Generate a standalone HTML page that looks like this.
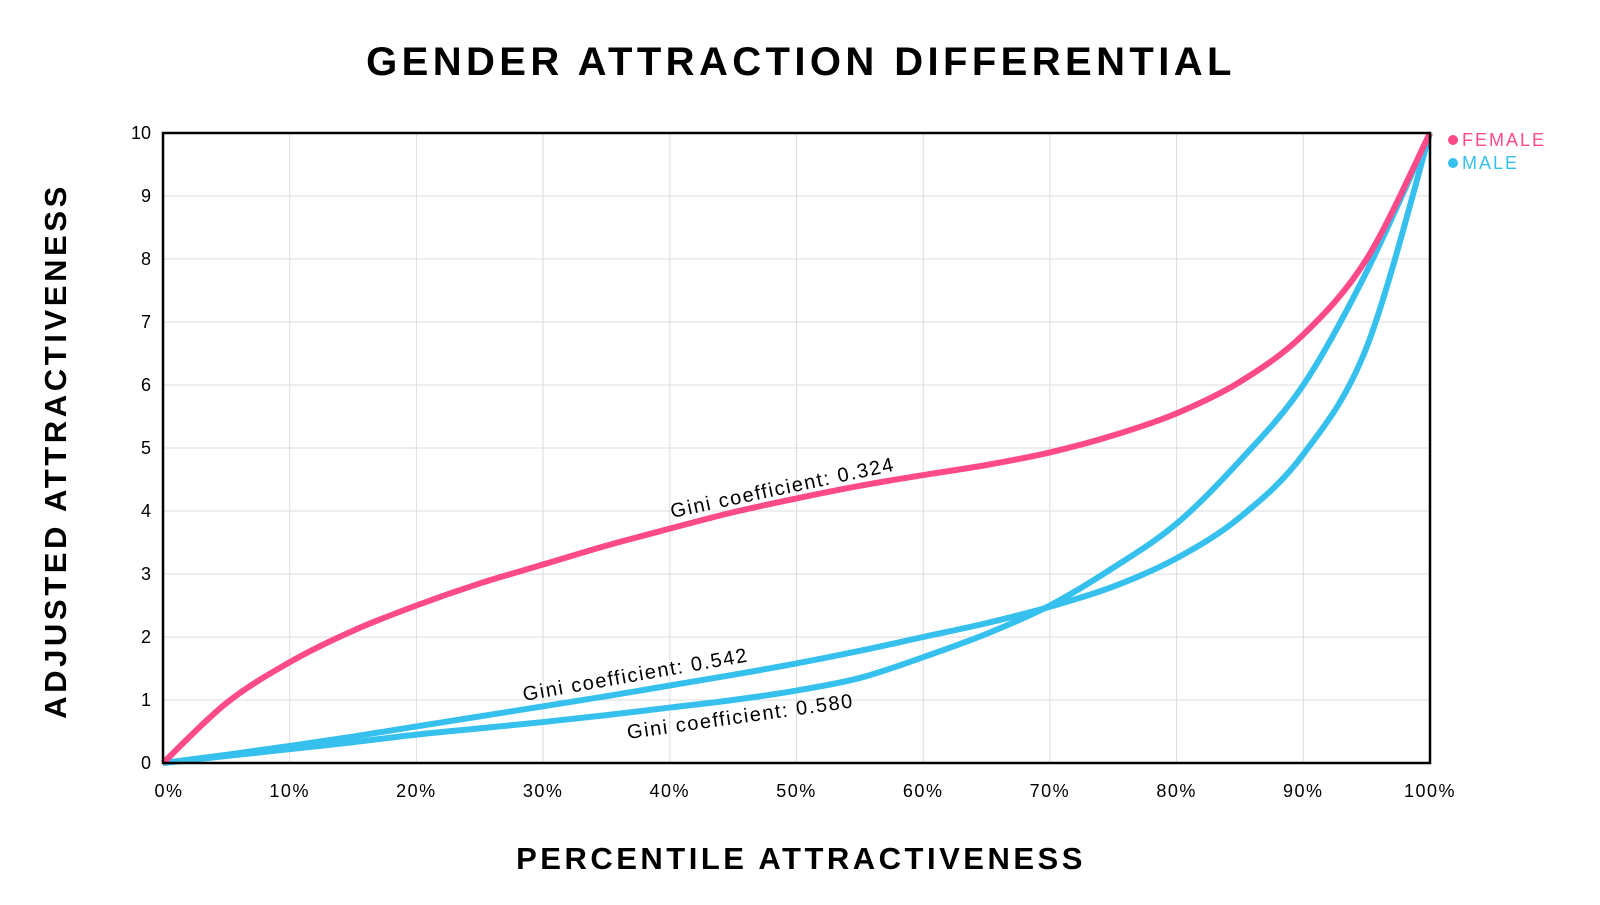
<!DOCTYPE html>
<html><head><meta charset="utf-8"><style>
body{margin:0;background:#fff;width:1600px;height:900px;overflow:hidden;font-family:"Liberation Sans",sans-serif}
</style></head><body>
<svg id="chart" width="1600" height="900" xmlns="http://www.w3.org/2000/svg">
<text x="801" y="75" text-anchor="middle" font-size="40" font-weight="bold" letter-spacing="4.4" fill="#000">GENDER ATTRACTION DIFFERENTIAL</text>
<text x="801" y="869" text-anchor="middle" font-size="31" font-weight="bold" letter-spacing="3.5" fill="#000">PERCENTILE ATTRACTIVENESS</text>
<text transform="translate(66,451) rotate(-90)" text-anchor="middle" font-size="31" font-weight="bold" letter-spacing="3.6" fill="#000">ADJUSTED ATTRACTIVENESS</text>
<g id="grid"></g><g id="series"></g>
<rect x="163" y="133" width="1267" height="630" fill="none" stroke="#000" stroke-width="2.5"/>
<g>
<circle cx="1453" cy="140" r="5" fill="#ff4a8a"/>
<text x="1462" y="146" font-size="18" letter-spacing="2" fill="#ff4a8a">FEMALE</text>
<circle cx="1453" cy="163" r="5" fill="#35c0ee"/>
<text x="1462" y="169" font-size="18" letter-spacing="2" fill="#35c0ee">MALE</text>
</g>
</svg>
<script>
const xs=[0,5,10,15,20,25,30,35,40,45,50,55,60,65,70,75,80,85,90,95,100];
const female=[0,0.95,1.6,2.1,2.5,2.85,3.15,3.45,3.72,3.98,4.2,4.4,4.57,4.73,4.93,5.2,5.55,6.05,6.8,8.0,10];
const male542=[0,0.13,0.27,0.42,0.58,0.74,0.9,1.06,1.23,1.4,1.58,1.78,2.0,2.22,2.48,2.8,3.25,3.9,4.9,6.6,10];
const male580=[0,0.11,0.22,0.33,0.45,0.55,0.65,0.76,0.88,1.0,1.15,1.35,1.68,2.05,2.5,3.1,3.8,4.8,6.0,7.8,10];
const xTicks=[0,10,20,30,40,50,60,70,80,90,100];
const yTicks=[0,1,2,3,4,5,6,7,8,9,10];
const X=v=>163+v/100*1267, Y=v=>763-v/10*630;
const NS="http://www.w3.org/2000/svg";
const g=document.getElementById('grid'), s=document.getElementById('series');
function mk(tag,attrs,parent){const e=document.createElementNS(NS,tag);for(const k in attrs)e.setAttribute(k,attrs[k]);parent.appendChild(e);return e;}
xTicks.forEach(t=>{
 const l=mk('line',{x1:X(t),x2:X(t),y1:133,y2:763,stroke:'#ddd','stroke-width':1},g);
 
 
 const tx=mk('text',{x:X(t)+(t==0?6:0),y:797,'text-anchor':'middle','font-size':18,'letter-spacing':1.5,fill:'#000'},g);
 tx.textContent=t+'%';
 
 
});
yTicks.forEach(t=>{
 const l=mk('line',{x1:163,x2:1430,y1:Y(t),y2:Y(t),stroke:'#ddd','stroke-width':1},g);
 
 
 const tx=mk('text',{x:151,y:Y(t)+6,'text-anchor':'end','font-size':18,fill:'#000'},g);
 tx.textContent=t;
 
 
});
function path(vals){
 const p=xs.map((x,i)=>[X(x),Y(vals[i])]);
 let d='M'+p[0][0]+','+p[0][1];
 for(let i=0;i<p.length-1;i++){
  const p0=p[i-1]||p[i],p1=p[i],p2=p[i+1],p3=p[i+2]||p[i+1];
  d+=' C'+(p1[0]+(p2[0]-p0[0])/6)+','+(p1[1]+(p2[1]-p0[1])/6)+' '+(p2[0]-(p3[0]-p1[0])/6)+','+(p2[1]-(p3[1]-p1[1])/6)+' '+p2[0]+','+p2[1];
 }
 return d;
}
const a=mk('path',{d:path(male542),fill:'none',stroke:'#35c0ee','stroke-width':6},s);


const b=mk('path',{d:path(male580),fill:'none',stroke:'#35c0ee','stroke-width':6},s);


const c=mk('path',{d:path(female),fill:'none',stroke:'#ff4a8a','stroke-width':6},s);


const labels=[['Gini coefficient: 0.324',672,518,-12],['Gini coefficient: 0.542',524,701,-10],['Gini coefficient: 0.580',628,739,-8]];
labels.forEach(L=>{
 const t=mk('text',{transform:`translate(${L[1]},${L[2]}) rotate(${L[3]})`,'font-size':20,'letter-spacing':1.6,fill:'#000'},s);
 t.textContent=L[0];
 
 
});
</script>
</body></html>
